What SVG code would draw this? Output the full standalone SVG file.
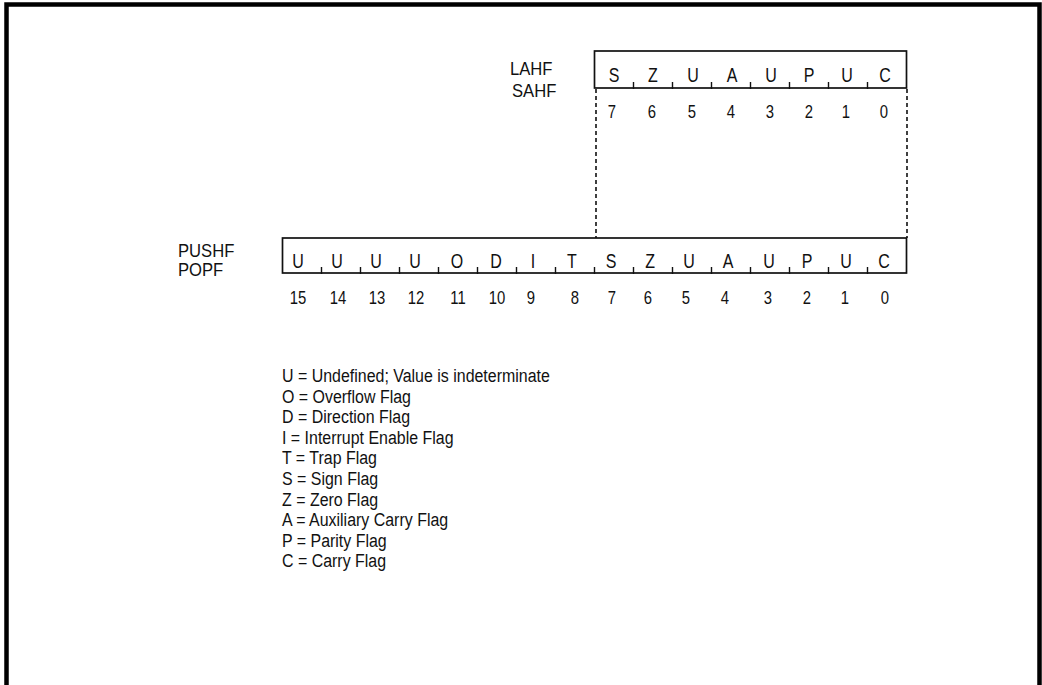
<svg xmlns="http://www.w3.org/2000/svg" width="1042" height="685" viewBox="0 0 1042 685">
<style>
.t{font-family:"Liberation Sans",Arial,sans-serif;fill:#111;transform-box:fill-box}
.lbl{font-size:18.5px;transform-origin:0% 50%;transform:scaleX(0.9)}
.bit{font-size:19.5px;text-anchor:middle;transform-origin:50% 50%;transform:scaleX(0.82)}
.num{font-size:17.5px;text-anchor:middle;transform-origin:50% 50%;transform:scaleX(0.85)}
.leg{font-size:19px;transform-origin:0% 50%;transform:scaleX(0.84)}
.box{fill:none;stroke:#111;stroke-width:1.7}
.tick{stroke:#111;stroke-width:1.4}
.dash{stroke:#111;stroke-width:1.6;stroke-dasharray:4 3;fill:none}
</style>
<rect width="1042" height="685" fill="#fff"/>
<path d="M6.5,685 V4.5 H1039.5 V685" fill="none" stroke="#000" stroke-width="4.5"/>

<g id="connectors">
<line class="dash" x1="596" y1="89" x2="596" y2="238"/>
<line class="dash" x1="907" y1="89" x2="907" y2="238"/>
</g>

<g id="byte-register">
<text class="t lbl" x="510" y="75">LAHF</text>
<text class="t lbl" x="512" y="97">SAHF</text>
<rect class="box" x="594.5" y="51" width="312" height="37"/>
<g class="tick">
<line x1="633.5" y1="82" x2="633.5" y2="89"/>
<line x1="672.5" y1="82" x2="672.5" y2="89"/>
<line x1="711.5" y1="82" x2="711.5" y2="89"/>
<line x1="750.5" y1="82" x2="750.5" y2="89"/>
<line x1="789.5" y1="82" x2="789.5" y2="89"/>
<line x1="828.5" y1="82" x2="828.5" y2="89"/>
<line x1="867.5" y1="82" x2="867.5" y2="89"/>
</g>
<text class="t bit" x="614" y="82">S</text>
<text class="t bit" x="653" y="82">Z</text>
<text class="t bit" x="693" y="82">U</text>
<text class="t bit" x="732" y="82">A</text>
<text class="t bit" x="771" y="82">U</text>
<text class="t bit" x="809" y="82">P</text>
<text class="t bit" x="847" y="82">U</text>
<text class="t bit" x="885" y="82">C</text>
<text class="t num" x="612" y="118">7</text>
<text class="t num" x="652" y="118">6</text>
<text class="t num" x="692" y="118">5</text>
<text class="t num" x="731" y="118">4</text>
<text class="t num" x="770" y="118">3</text>
<text class="t num" x="809" y="118">2</text>
<text class="t num" x="846" y="118">1</text>
<text class="t num" x="884" y="118">0</text>
</g>

<g id="word-register">
<text class="t lbl" x="178" y="257">PUSHF</text>
<text class="t lbl" x="178" y="276">POPF</text>
<rect class="box" x="282.5" y="238" width="624" height="35"/>
<g class="tick">
<line x1="321.5" y1="267" x2="321.5" y2="274"/>
<line x1="360.5" y1="267" x2="360.5" y2="274"/>
<line x1="399.5" y1="267" x2="399.5" y2="274"/>
<line x1="438.5" y1="267" x2="438.5" y2="274"/>
<line x1="477.5" y1="267" x2="477.5" y2="274"/>
<line x1="516.5" y1="267" x2="516.5" y2="274"/>
<line x1="555.5" y1="267" x2="555.5" y2="274"/>
<line x1="594.5" y1="267" x2="594.5" y2="274"/>
<line x1="633.5" y1="267" x2="633.5" y2="274"/>
<line x1="672.5" y1="267" x2="672.5" y2="274"/>
<line x1="711.5" y1="267" x2="711.5" y2="274"/>
<line x1="750.5" y1="267" x2="750.5" y2="274"/>
<line x1="789.5" y1="267" x2="789.5" y2="274"/>
<line x1="828.5" y1="267" x2="828.5" y2="274"/>
<line x1="867.5" y1="267" x2="867.5" y2="274"/>
</g>
<text class="t bit" x="298" y="268">U</text>
<text class="t bit" x="337" y="268">U</text>
<text class="t bit" x="376" y="268">U</text>
<text class="t bit" x="415" y="268">U</text>
<text class="t bit" x="457" y="268">O</text>
<text class="t bit" x="496" y="268">D</text>
<text class="t bit" x="533" y="268">I</text>
<text class="t bit" x="572" y="268">T</text>
<text class="t bit" x="611" y="268">S</text>
<text class="t bit" x="650" y="268">Z</text>
<text class="t bit" x="689" y="268">U</text>
<text class="t bit" x="728" y="268">A</text>
<text class="t bit" x="769" y="268">U</text>
<text class="t bit" x="807" y="268">P</text>
<text class="t bit" x="846" y="268">U</text>
<text class="t bit" x="884" y="268">C</text>
<text class="t num" x="298" y="304">15</text>
<text class="t num" x="338" y="304">14</text>
<text class="t num" x="377" y="304">13</text>
<text class="t num" x="416" y="304">12</text>
<text class="t num" x="458" y="304">11</text>
<text class="t num" x="497" y="304">10</text>
<text class="t num" x="531" y="304">9</text>
<text class="t num" x="575" y="304">8</text>
<text class="t num" x="612" y="304">7</text>
<text class="t num" x="648" y="304">6</text>
<text class="t num" x="686" y="304">5</text>
<text class="t num" x="725" y="304">4</text>
<text class="t num" x="768" y="304">3</text>
<text class="t num" x="807" y="304">2</text>
<text class="t num" x="845" y="304">1</text>
<text class="t num" x="885" y="304">0</text>
</g>

<g id="legend">
<text class="t leg" x="282" y="382">U = Undefined; Value is indeterminate</text>
<text class="t leg" x="282" y="402.6">O = Overflow Flag</text>
<text class="t leg" x="282" y="423.2">D = Direction Flag</text>
<text class="t leg" x="282" y="443.8">I = Interrupt Enable Flag</text>
<text class="t leg" x="282" y="464.4">T = Trap Flag</text>
<text class="t leg" x="282" y="485">S = Sign Flag</text>
<text class="t leg" x="282" y="505.6">Z = Zero Flag</text>
<text class="t leg" x="282" y="526.2">A = Auxiliary Carry Flag</text>
<text class="t leg" x="282" y="546.8">P = Parity Flag</text>
<text class="t leg" x="282" y="567.4">C = Carry Flag</text>
</g>
</svg>
